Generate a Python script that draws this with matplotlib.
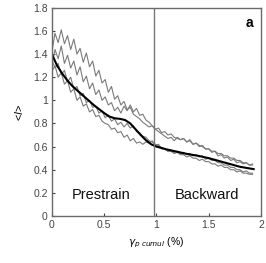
import numpy as np
import matplotlib
matplotlib.use("Agg")
import matplotlib.pyplot as plt

plt.rcParams['font.family'] = ['Liberation Sans', 'DejaVu Sans']

# Gray individual curves (values on a regular strain grid 0 .. 1.92 %)
curve1 = [1.42,1.58,1.50,1.61,1.49,1.56,1.44,1.53,1.40,1.45,
          1.33,1.41,1.29,1.34,1.21,1.26,1.15,1.18,1.07,1.12,
          1.01,1.04,0.96,0.99,0.92,0.94,0.88,0.86,0.84,0.81,
          0.79,0.77,0.78,0.75,0.76,0.72,0.73,0.70,0.71,0.68,
          0.67,0.66,0.67,0.64,0.65,0.62,0.63,0.61,0.60,0.58,
          0.58,0.56,0.56,0.54,0.54,0.52,0.52,0.50,0.50,0.48,
          0.48,0.46,0.46,0.44,0.45]
curve2 = [1.30,1.44,1.36,1.47,1.32,1.39,1.28,1.34,1.22,1.29,
          1.16,1.21,1.10,1.15,1.05,1.09,1.00,1.03,0.96,0.98,
          0.91,0.94,0.89,0.95,0.91,0.96,0.90,0.93,0.87,0.88,
          0.83,0.81,0.78,0.75,0.73,0.71,0.69,0.67,0.68,0.65,
          0.68,0.66,0.67,0.64,0.66,0.62,0.63,0.60,0.61,0.58,
          0.58,0.55,0.56,0.52,0.53,0.50,0.51,0.48,0.49,0.46,
          0.47,0.45,0.46,0.44,0.44]
curve3 = [1.35,1.28,1.32,1.22,1.26,1.16,1.20,1.10,1.12,1.04,
          1.06,0.98,1.00,0.94,0.95,0.89,0.91,0.85,0.87,0.82,
          0.84,0.79,0.81,0.77,0.80,0.76,0.78,0.73,0.72,0.69,
          0.68,0.65,0.64,0.62,0.61,0.59,0.58,0.56,0.57,0.55,
          0.56,0.54,0.55,0.53,0.54,0.52,0.53,0.51,0.52,0.49,
          0.50,0.48,0.48,0.46,0.46,0.44,0.44,0.42,0.42,0.40,
          0.40,0.38,0.39,0.37,0.37]
curve4 = [1.25,1.30,1.20,1.24,1.14,1.17,1.07,1.10,1.00,1.03,
          0.95,0.97,0.90,0.92,0.86,0.87,0.82,0.80,0.79,0.75,
          0.76,0.72,0.73,0.68,0.70,0.65,0.67,0.63,0.64,0.62,
          0.64,0.63,0.65,0.61,0.62,0.58,0.58,0.56,0.56,0.54,
          0.55,0.53,0.53,0.51,0.52,0.50,0.50,0.48,0.49,0.47,
          0.47,0.45,0.45,0.43,0.44,0.42,0.42,0.40,0.40,0.38,
          0.39,0.37,0.37,0.36,0.36]
gray_curves = [curve1, curve2, curve3, curve4]
gray_end = 1.92

# Mean (black) curve
mean_x = [0,0.05,0.1,0.15,0.2,0.3,0.4,0.5,0.55,0.6,0.65,0.7,0.75,0.8,0.85,0.9,0.95,1.0,1.1,1.2,1.3,1.4,1.5,1.6,1.7,1.8,1.93]
mean_y = [1.40,1.30,1.23,1.17,1.12,1.04,0.96,0.89,0.86,0.845,0.84,0.83,0.80,0.75,0.70,0.655,0.62,0.60,0.575,0.555,0.535,0.52,0.50,0.475,0.45,0.425,0.405]

reversal_x = 0.98
x_ticks = [0, 0.5, 1, 1.5, 2]
x_tick_labels = ["0", "0.5", "1", "1.5", "2"]
y_ticks = [0, 0.2, 0.4, 0.6, 0.8, 1, 1.2, 1.4, 1.6, 1.8]
y_tick_labels = ["0", "0.2", "0.4", "0.6", "0.8", "1", "1.2", "1.4", "1.6", "1.8"]

fig = plt.figure(figsize=(2.66, 2.63), dpi=100)
ax = fig.add_axes([0.195, 0.179, 0.786, 0.791])

for c in gray_curves:
    xs = np.linspace(0, gray_end, len(c))
    ax.plot(xs, c, color="#7a7a7a", lw=0.8)
ax.plot(mean_x, mean_y, color="black", lw=1.5)

ax.axvline(reversal_x, color="#777777", lw=1.0)

ax.set_xlim(0, 2)
ax.set_ylim(0, 1.8)
ax.set_xticks(x_ticks)
ax.set_xticklabels(x_tick_labels)
ax.set_yticks(y_ticks)
ax.set_yticklabels(y_tick_labels)
ax.tick_params(direction="in", length=2.5, width=0.8, labelsize=7.5, colors="#444444", pad=3)
for s in ax.spines.values():
    s.set_color("#6a6a6a")
    s.set_linewidth(1.0)

ax.text(0.47, 0.18, "Prestrain", fontsize=10.5, ha="center", va="center", color="#111111")
ax.text(1.48, 0.18, "Backward", fontsize=10.5, ha="center", va="center", color="#111111")
ax.text(1.93, 1.67, "a", fontsize=10, fontweight="bold", ha="right", va="center")

ax.set_xlabel(r"$\gamma_{p\ cumul}$ (%)", fontsize=7.5, labelpad=4)
ax.set_ylabel(r"<$l$>", fontsize=8, labelpad=6)

fig.savefig("out.png", dpi=100)
